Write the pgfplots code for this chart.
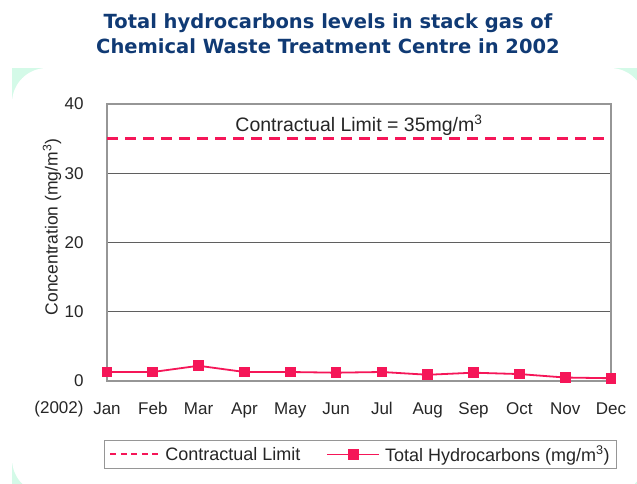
\documentclass[border=0pt]{standalone}
\usepackage{fontspec}
\setmainfont{Liberation Sans}
\newfontfamily\titlefont{DejaVu Sans}
\usepackage{pgfplots}
\pgfplotsset{compat=1.18}
\definecolor{hcpink}{RGB}{245,22,88}
\definecolor{titleblue}{RGB}{16,58,116}
\definecolor{mint}{RGB}{212,250,232}
\definecolor{gridgray}{RGB}{95,95,95}
\definecolor{framegray}{RGB}{150,150,150}

\pgfplotstableread{
x  thc
0  1.3
1  1.3
2  2.2
3  1.3
4  1.3
5  1.2
6  1.3
7  0.9
8  1.2
9  1.0
10 0.5
11 0.4
}\thcdata

\begin{document}
\begin{tikzpicture}[x=1pt,y=1pt]
\useasboundingbox (0,0) rectangle (637,484);
% background frame
\fill[mint] (12,0) rectangle (637,416);
\fill[white, rounded corners=35pt] (12,-10) rectangle (645,416);
% title
\node[font=\titlefont\bfseries\fontsize{19.5}{25}\selectfont, text=titleblue, align=center]
  at (328,450) {Total hydrocarbons levels in stack gas of\\Chemical Waste Treatment Centre in 2002};
\begin{axis}[
    at={(107pt,103pt)}, anchor=south west,
    scale only axis,
    width=504pt, height=277pt,
    xmin=0, xmax=11,
    ymin=0, ymax=40,
    xtick={0,...,11},
    xticklabels={Jan,Feb,Mar,Apr,May,Jun,Jul,Aug,Sep,Oct,Nov,Dec},
    ytick={0,10,20,30,40},
    major tick length=0pt,
    ymajorgrids,
    grid style={gridgray, line width=1pt},
    axis line style={framegray, line width=1.8pt},
    ticklabel style={font=\fontsize{17}{20}\selectfont, text=black!85},
    /pgf/number format/assume math mode=true,
    xticklabel style={yshift=-18pt},
    yticklabel style={xshift=-20pt},
    ylabel={Concentration (mg/m\textsuperscript{3})},
    ylabel style={at={(axis description cs:-0.109,0.556)}, anchor=center, font=\fontsize{17.5}{20}\selectfont, text=black!85},
    clip=false,
    legend columns=2,
    legend style={at={(axis description cs:0.503,-0.265)}, anchor=center,
      draw=framegray, line width=1.2pt, font=\fontsize{18}{20}\selectfont,
      text=black!85, inner xsep=5pt, inner ysep=4pt,
      /tikz/every even column/.append style={column sep=24pt}},
    legend image code/.code={\draw[mark repeat=2,mark phase=2] plot coordinates {(0pt,0pt) (26pt,0pt) (52pt,0pt)};},
]
\addplot[hcpink, line width=2.4pt, dash pattern=on 11pt off 7pt, mark=none,
  legend image post style={dash pattern=on 6pt off 4.5pt, line width=2pt}] coordinates {(0,35) (11,35)};
\addlegendentry{Contractual Limit}
\addplot[hcpink, line width=1.8pt, mark=square*, mark size=4.5pt, mark options={solid}] table[x=x, y=thc] {\thcdata};
\addlegendentry{\hspace{3pt}Total Hydrocarbons (mg/m\textsuperscript{3})}
\node[font=\fontsize{19.5}{22}\selectfont, text=black!85] at (axis cs:5.5,36.9) {Contractual Limit = 35mg/m\textsuperscript{3}};
\end{axis}
\node[font=\fontsize{17}{20}\selectfont, text=black!85] at (59,75) {(2002)};
\end{tikzpicture}
\end{document}
